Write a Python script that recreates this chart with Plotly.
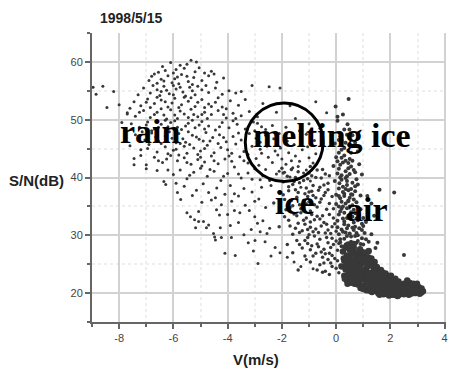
import plotly.graph_objects as go

# ---- data (V in m/s, S/N in dB) ----
rain_outliers = [(-8.96,55.6),(-8.6,55.8),(-8.85,54.4),(-8.2,54.9),(-8.45,52.1),(-8.0,52.6),(-7.7,51.0),(-7.9,49.5)]

rain_pts = [
 (-6.1,59.9),(-5.35,60.3),(-5.15,60.0),(-5.05,59.0),(-5.9,58.7),(-6.3,58.5),(-5.6,58.9),(-6.55,58.2),(-5.75,59.4),(-4.6,58.4),(-5.2,58.3),(-6.0,58.1),
 (-6.8,57.5),(-6.45,57.0),(-6.2,57.6),(-5.95,57.1),(-5.7,57.8),(-5.45,56.6),(-5.25,57.3),(-4.95,56.8),(-4.7,57.6),(-6.6,56.3),(-6.05,56.4),(-5.8,56.2),(-5.5,57.5),(-4.4,56.5),(-4.15,57.2),(-6.9,56.8),
 (-7.1,55.5),(-6.85,54.6),(-6.6,55.2),(-6.35,55.8),(-6.15,54.5),(-5.9,55.3),(-5.65,54.8),(-5.4,55.6),(-5.2,54.3),(-4.95,55.2),(-4.7,54.7),(-4.45,55.5),(-4.2,54.4),(-3.95,55.0),(-6.5,54.2),(-6.0,55.9),(-5.55,54.1),(-5.1,55.8),(-7.3,54.3),(-3.7,54.6),(-6.25,55.1),(-5.75,55.6),
 (-7.45,53.1),(-7.2,52.4),(-6.95,53.6),(-6.7,52.8),(-6.45,53.4),(-6.2,52.2),(-5.95,53.7),(-5.7,52.6),(-5.45,53.2),(-5.2,52.3),(-4.95,53.5),(-4.7,52.7),(-4.45,53.0),(-4.2,52.2),(-3.9,53.3),(-3.6,52.5),(-6.6,53.9),(-6.05,52.9),(-5.35,53.8),(-4.85,52.1),(-7.6,52.0),(-3.35,53.5),(-6.85,52.1),(-5.6,53.9),
 (-7.7,51.2),(-7.4,50.6),(-7.1,51.6),(-6.85,50.4),(-6.6,51.3),(-6.35,50.8),(-6.1,51.7),(-5.85,50.2),(-5.6,51.0),(-5.35,51.8),(-5.1,50.5),(-4.85,51.3),(-4.6,50.9),(-4.35,51.6),(-4.05,50.3),(-3.8,51.1),(-3.5,50.7),(-3.2,51.4),(-6.25,50.1),(-5.75,51.5),(-5.25,50.9),(-4.75,50.2),(-6.7,50.9),(-2.9,50.5),
 (-7.55,49.3),(-7.25,48.7),(-6.95,49.6),(-6.7,48.4),(-6.45,49.2),(-6.2,48.8),(-5.95,49.8),(-5.7,48.3),(-5.45,49.4),(-5.2,48.6),(-4.95,49.7),(-4.7,48.9),(-4.45,48.2),(-4.2,49.5),(-3.95,48.6),(-3.65,49.2),(-3.35,48.4),(-3.05,49.6),(-6.1,49.5),(-5.55,48.9),(-5.05,49.1),(-2.75,48.8),(-6.8,48.1),
 (-7.4,47.4),(-7.05,46.5),(-6.8,47.7),(-6.55,46.3),(-6.3,47.2),(-6.05,46.8),(-5.8,47.6),(-5.55,46.1),(-5.3,47.3),(-5.05,46.6),(-4.8,47.8),(-4.55,46.9),(-4.3,47.4),(-4.05,46.2),(-3.8,47.1),(-3.5,46.5),(-3.2,47.6),(-2.95,46.8),(-5.9,46.0),(-5.45,47.9),(-4.9,46.3),(-2.6,47.3),
 (-7.6,45.5),(-7.2,44.8),(-6.9,45.7),(-6.6,44.4),(-6.3,45.3),(-6.0,44.7),(-5.75,45.9),(-5.5,44.2),(-5.25,45.1),(-5.0,44.6),(-4.75,45.6),(-4.5,44.3),(-4.25,45.2),(-4.0,44.8),(-3.7,45.8),(-3.4,44.5),(-3.1,45.4),(-2.8,44.9),(-5.6,45.4),(-5.1,44.0),(-6.2,44.1),
 (-7.45,43.3),(-7.0,42.2),(-6.7,43.5),(-6.4,42.6),(-6.1,43.8),(-5.85,42.9),(-5.6,43.4),(-5.35,42.3),(-5.1,43.1),(-4.85,42.7),(-4.6,43.7),(-4.35,42.4),(-4.1,43.2),(-3.85,42.8),(-3.55,43.6),(-3.25,42.5),(-2.95,43.3),(-5.8,43.9),(-4.95,42.0),
 (-6.35,39.3),(-6.28,38.8),(-6.0,40.5),(-5.75,41.3),(-5.5,39.8),(-5.25,40.9),(-5.0,41.6),(-4.75,40.2),(-4.5,41.1),(-4.25,39.5),(-4.0,40.7),(-3.75,41.8),(-3.5,39.9),(-3.25,40.8),(-3.0,41.5),(-2.8,39.6),(-5.6,38.5),(-4.9,38.9),(-4.4,38.2),(-3.9,38.6),(-3.4,38.1),(-6.6,41.2),(-5.9,39.0),(-7.45,42.2),(-7.0,41.5),
 (-5.73,36.2),(-5.5,33.9),(-5.37,33.2),(-5.22,32.7),(-5.07,34.1),(-4.41,34.4),(-4.23,35.3),(-5.3,36.9),(-4.95,35.7),(-4.7,37.4),(-4.45,36.5),(-4.1,37.1),(-3.85,35.9),(-3.6,36.8),(-3.35,35.2),(-3.1,37.5),(-2.85,36.3),(-2.6,34.8),(-4.0,33.6),(-3.55,33.9),(-3.2,34.3),(-5.85,37.4),
 (-5.07,32.4),(-5.18,31.3),(-4.89,32.4),(-4.7,31.8),(-4.78,31.3),(-4.52,30.3),(-4.45,29.2),(-4.27,31.3),(-4.23,29.6),(-4.48,29.7),(-3.86,29.6),(-3.13,31.0),(-2.8,30.6),(-2.62,28.9),(-3.24,28.7),(-2.99,29.1),(-3.6,32.2),(-3.4,30.1),(-2.7,32.5),(-2.45,31.2),(-3.9,31.7),
 (-3.72,26.5),(-2.88,25.1),(-2.25,27.9),(-2.07,27.0),(-1.8,26.2),(-1.55,25.4),(-2.4,26.4),(-1.3,24.6),(-1.1,25.8),(-0.85,24.2),(-3.05,27.3),(-4.1,26.9),
]

rain_pts2 = [
 (-6.4,59.2),(-5.5,59.6),(-6.7,57.9),(-6.35,56.7),(-5.85,57.4),(-5.3,56.1),(-4.85,58.1),(-4.5,57.9),(-6.75,55.9),(-6.45,54.9),(-6.0,54.3),(-5.3,55.0),(-4.8,55.9),(-4.35,53.8),
 (-7.0,53.0),(-6.3,53.1),(-5.8,52.1),(-5.1,53.0),(-4.6,52.3),(-4.05,51.9),(-7.25,51.3),(-6.45,51.9),(-5.95,50.8),(-5.45,50.4),(-4.95,50.9),(-4.15,50.9),(-3.7,50.2),
 (-7.0,49.1),(-6.55,48.7),(-6.3,49.9),(-5.85,48.7),(-5.3,49.9),(-4.85,48.4),(-4.3,48.8),(-3.8,49.8),(-7.15,47.9),(-6.65,47.0),(-6.15,47.9),(-5.65,46.7),(-5.15,47.0),(-4.65,46.3),(-4.15,46.9),(-3.6,47.7),(-3.0,48.1),
 (-6.95,45.0),(-6.45,45.9),(-5.9,44.9),(-5.4,45.7),(-4.85,45.0),(-4.35,45.9),(-3.85,44.2),(-3.25,44.0),(-7.2,43.8),(-6.55,42.9),(-6.25,43.2),(-5.5,42.6),(-5.0,43.5),(-4.5,42.9),(-3.95,43.7),(-3.4,42.9),
 (-6.2,41.3),(-5.4,40.4),(-4.65,41.4),(-4.15,40.2),(-3.6,40.6),(-3.1,39.7),(-5.15,37.8),(-4.6,36.1),(-3.75,37.2),(-3.0,35.9),(-2.75,38.3),(-4.3,33.5),(-3.75,34.3),(-3.0,33.2),(-2.55,30.3),(-2.9,32.1),
]

melting_pts = [
 (-2.9,49.4),(-2.6,48.3),(-2.35,49.0),(-2.1,47.6),(-1.85,48.7),(-1.6,47.2),(-1.35,48.1),(-1.1,47.5),(-2.8,46.1),(-2.55,45.4),(-2.3,46.7),(-2.05,45.1),(-1.8,46.3),(-1.55,45.7),(-1.3,46.9),(-1.05,45.3),(-0.8,46.4),
 (-2.75,44.2),(-2.5,43.5),(-2.25,44.6),(-2.0,43.2),(-1.75,44.3),(-1.5,43.7),(-1.25,44.8),(-1.0,43.4),(-0.75,44.1),(-2.85,42.1),(-2.6,41.4),(-2.35,42.6),(-2.1,41.1),(-1.85,42.3),(-1.6,41.7),(-1.35,42.8),(-1.1,41.3),(-0.85,42.5),
 (-2.7,40.3),(-2.45,39.5),(-2.2,40.6),(-1.95,39.2),(-1.7,40.1),(-1.45,39.7),(-1.2,40.8),(-0.95,39.4),(-2.15,43.9),(-1.65,42.9),(-1.9,40.9),(-1.4,41.9),(-2.4,38.6),(-1.3,38.3),(-0.6,48.5),(-0.75,53.1),(-0.35,51.2),
 (-2.47,55.7),(-2.07,55.5),(-3.5,54.9),(-1.5,50.2),(-1.0,49.3),(-2.2,51.3),(-1.7,52.4),(-2.7,52.8),(-3.1,55.9),
]

ice_pts = [
 (-2.0,41.6),(-1.8,40.2),(-1.6,38.8),(-1.4,41.0),(-1.2,39.5),(-1.0,40.8),(-0.85,38.6),(-0.7,41.3),(-0.55,39.9),(-0.4,40.6),(-1.5,40.0),(-1.1,38.2),(-0.6,38.3),(-0.95,41.9),(-1.75,38.4),(-0.3,39.0),
 (-2.1,37.5),(-1.9,36.2),(-1.75,37.7),(-1.6,35.1),(-1.45,36.6),(-1.3,34.6),(-1.15,37.2),(-1.0,35.8),(-0.85,36.9),(-0.7,34.9),(-0.55,36.3),(-0.4,37.4),(-0.25,35.5),(-1.85,34.4),(-1.5,37.9),(-1.2,36.0),(-0.95,34.2),(-0.65,37.8),(-0.35,34.5),(-2.3,35.6),(-1.05,36.7),(-0.8,35.3),
 (-1.9,33.2),(-1.7,31.6),(-1.55,33.7),(-1.4,32.1),(-1.25,30.8),(-1.1,33.0),(-0.95,31.4),(-0.8,32.7),(-0.65,30.5),(-0.5,33.4),(-0.35,31.9),(-0.2,30.3),(-1.6,30.2),(-1.3,33.9),(-1.0,30.1),(-0.75,31.1),(-0.45,32.2),(-0.1,33.0),(-2.1,31.5),(-1.15,31.9),(-0.9,33.6),(-0.3,30.9),
 (-1.45,29.1),(-1.25,27.8),(-1.05,29.6),(-0.9,28.2),(-0.75,26.9),(-0.6,29.3),(-0.45,27.6),(-0.3,28.7),(-0.15,26.5),(0.0,29.0),(-1.6,27.0),(-1.15,26.4),(-0.5,26.2),(-0.2,27.9),(-0.8,29.9),(-1.8,28.4),(-0.05,26.0),
 (-0.6,24.9),(-0.4,23.8),(-0.2,25.2),(0.0,24.3),(-0.95,25.4),(-0.3,25.8),(0.1,23.5),(-1.4,24.0),
]

ice_pts2 = [
 (-1.95,40.8),(-1.65,41.4),(-1.35,39.1),(-1.05,39.8),(-0.75,40.0),(-0.5,41.4),(-0.25,40.3),(-1.55,39.3),(-0.9,40.3),(-0.45,38.7),
 (-1.95,37.0),(-1.65,36.0),(-1.4,37.4),(-1.1,35.4),(-0.9,37.6),(-0.6,35.7),(-0.45,36.9),(-0.15,36.7),(-1.35,35.3),(-0.75,36.5),(-0.3,37.9),(-0.1,34.6),(-1.7,34.8),(-1.0,37.5),
 (-1.75,32.6),(-1.5,31.2),(-1.2,32.6),(-1.05,31.0),(-0.85,30.6),(-0.7,33.3),(-0.55,31.6),(-0.4,30.4),(-0.25,33.6),(-0.15,31.5),(0.0,30.7),(-1.35,30.5),(-0.6,32.8),(-0.05,32.0),(-1.45,33.4),(-0.95,32.3),
 (-1.35,28.4),(-1.15,29.1),(-0.95,27.5),(-0.7,28.5),(-0.55,27.1),(-0.35,29.6),(-0.25,26.9),(-0.1,28.4),(0.05,27.4),(-0.85,26.4),(-0.4,26.8),(-0.65,28.0),(-1.05,28.6),(-0.15,29.5),(0.1,28.6),
 (-0.45,25.2),(-0.15,24.6),(0.05,25.6),(-0.7,24.0),(-0.25,23.2),(0.15,24.8),(-0.5,23.6),
]

air_pts = [
 (0.05,49.8),(0.3,48.3),(0.49,48.3),(0.42,49.2),(0.15,47.1),(0.35,46.0),(0.2,44.8),(0.5,45.5),(-0.05,45.9),(0.6,47.3),(0.1,46.5),(0.46,53.6),(0.05,50.5),(-0.02,52.3),(0.8,44.5),(0.25,50.9),
 (0.0,43.5),(0.15,42.2),(0.3,43.8),(0.45,41.6),(0.6,42.9),(0.2,40.4),(0.35,41.1),(0.5,43.2),(0.7,40.9),(0.1,41.5),(0.25,42.6),(0.4,40.2),(-0.1,42.0),(0.55,41.9),(0.85,42.3),(0.05,40.7),
 (-0.05,39.4),(0.1,38.1),(0.2,39.6),(0.3,37.2),(0.4,38.7),(0.5,36.5),(0.6,39.1),(0.7,37.6),(0.15,36.4),(0.25,38.4),(0.35,39.9),(0.45,37.8),(0.55,38.0),(0.8,38.8),(0.0,37.0),(0.65,36.2),(0.3,36.8),(0.9,36.9),(0.12,39.0),
 (0.0,35.4),(0.1,33.6),(0.2,35.8),(0.3,32.4),(0.4,34.7),(0.5,33.1),(0.6,35.2),(0.7,33.8),(0.8,32.6),(0.15,34.1),(0.25,32.9),(0.35,35.5),(0.45,33.4),(0.55,34.0),(0.65,32.2),(0.9,34.5),(1.0,33.0),(0.05,32.5),(0.75,35.7),(1.1,32.3),
 (0.05,31.4),(0.15,29.3),(0.25,30.6),(0.35,28.4),(0.45,31.7),(0.55,29.8),(0.65,30.9),(0.75,28.7),(0.85,31.2),(0.95,29.5),(1.05,30.4),(1.2,28.9),(0.2,28.1),(0.4,29.9),(0.6,28.2),(0.8,30.0),(1.0,31.6),(1.3,30.2),(0.3,31.9),(0.7,31.5),
 (2.5,26.6),(2.14,37.4),(1.6,37.9),(1.52,28.7),(1.45,27.8),(1.3,35.5),(1.15,36.8),(0.95,40.5),(1.4,33.4),
]

air_pts2 = [
 (0.2,46.3),(0.4,47.4),(0.1,44.3),(0.3,45.1),(0.55,44.3),(0.7,46.0),(0.45,42.5),(0.2,43.4),(0.65,41.3),(0.35,42.9),(0.05,42.8),(0.15,40.0),(0.4,39.4),(0.5,40.6),(0.75,39.7),(0.25,37.5),(0.55,37.1),
 (0.1,36.8),(0.45,36.0),(0.7,38.5),(0.35,38.0),(0.6,37.0),(0.2,34.6),(0.4,33.0),(0.5,35.0),(0.65,34.4),(0.85,33.5),(0.3,33.9),(0.1,35.0),(0.6,33.2),(0.75,32.9),(0.95,32.0),(0.45,35.9),(0.25,35.0),
 (0.1,30.2),(0.3,29.4),(0.5,30.3),(0.7,29.9),(0.9,28.5),(1.1,29.3),(0.2,31.0),(0.4,31.2),(0.6,31.3),(0.8,29.0),(1.0,28.4),(0.35,30.5),(0.55,28.9),(0.75,30.4),(0.15,28.8),(0.95,30.9),
]

tail_pts = [
 (0.25,27.2),(0.3,25.6),(0.35,24.1),(0.4,26.5),(0.45,23.2),(0.5,27.5),(0.55,25.0),(0.6,22.6),(0.3,23.0),(0.4,22.2),(0.5,24.3),(0.6,26.8),(0.35,27.9),(0.45,25.8),(0.55,23.7),(0.2,24.6),(0.6,24.5),(0.42,21.6),
 (0.65,27.8),(0.7,25.9),(0.75,23.4),(0.8,26.6),(0.85,22.0),(0.9,24.8),(0.95,27.1),(1.0,23.1),(0.68,21.6),(0.72,24.3),(0.78,22.7),(0.82,25.2),(0.88,23.6),(0.92,21.3),(0.98,25.7),(0.7,27.0),(0.85,26.3),(0.95,22.4),(0.66,23.0),(0.8,24.0),(0.9,20.9),(1.0,26.1),(0.75,25.0),(0.88,27.6),
 (1.05,25.3),(1.1,22.1),(1.15,24.6),(1.2,20.8),(1.25,23.5),(1.3,26.0),(1.35,21.7),(1.4,24.1),(1.45,20.4),(1.5,22.9),(1.08,23.8),(1.12,20.5),(1.18,26.2),(1.22,22.6),(1.28,24.9),(1.32,20.2),(1.38,22.3),(1.42,25.4),(1.48,21.5),(1.02,21.2),(1.15,21.9),(1.25,21.1),(1.35,23.3),(1.45,23.8),(1.1,24.2),(1.2,25.0),(1.3,22.0),(1.4,21.0),(1.5,24.5),(1.05,27.0),
 (1.55,20.0),(1.6,22.4),(1.65,21.1),(1.7,23.6),(1.75,19.8),(1.8,22.0),(1.85,20.7),(1.9,23.0),(1.95,19.6),(2.0,21.8),(1.58,23.3),(1.62,20.6),(1.68,22.0),(1.72,21.0),(1.78,20.3),(1.82,23.4),(1.88,21.5),(1.92,20.1),(1.98,22.6),(1.55,21.7),(1.65,24.0),(1.75,21.6),(1.85,22.5),(1.95,21.2),(1.6,19.7),(1.7,20.5),(1.8,21.4),(1.9,19.9),
 (2.05,20.4),(2.1,22.1),(2.15,19.7),(2.2,21.3),(2.25,20.0),(2.3,22.0),(2.35,19.8),(2.4,21.0),(2.45,20.3),(2.5,21.6),(2.08,21.0),(2.12,20.1),(2.18,22.5),(2.22,20.6),(2.28,19.6),(2.32,21.4),(2.38,20.5),(2.42,19.9),(2.48,21.1),(2.02,23.0),(2.2,20.2),(2.3,20.8),
 (2.55,20.0),(2.6,21.3),(2.65,20.4),(2.7,21.8),(2.75,19.9),(2.8,20.9),(2.85,20.3),(2.9,21.2),(2.95,20.6),(3.0,20.1),(3.05,21.0),(3.1,20.4),(3.15,20.8),(2.58,20.7),(2.68,19.7),(2.78,21.4),(2.88,20.0),(2.98,21.6),(3.08,19.9),(3.2,20.3),(2.62,22.2),(2.72,20.6),
]

tail_pts2 = [
 (0.28,26.0),(0.38,24.9),(0.48,26.2),(0.58,27.0),(0.32,22.5),(0.52,22.9),(0.62,25.4),(0.74,26.2),(0.84,24.6),(0.96,23.8),(0.7,22.2),(0.8,21.5),(1.06,22.7),(1.16,23.1),(1.26,25.6),(1.36,24.6),(1.46,22.3),
 (1.56,22.9),(1.66,22.6),(1.76,22.8),(1.86,21.0),(1.96,20.5),(1.24,20.4),(1.34,21.2),(1.44,21.9),(1.54,20.8),(1.64,19.9),(1.74,20.9),(1.84,19.9),(1.94,22.0),(2.04,21.5),(2.14,20.9),(2.24,21.8),(2.34,20.3),
 (2.44,20.7),(2.54,20.9),(2.64,21.0),(2.74,20.2),(2.84,21.6),(2.94,20.0),(3.04,20.5),(3.14,20.1),(1.1,26.0),(0.9,26.0),(0.65,28.5),(0.45,28.4),(1.2,27.3),(0.55,21.8),(1.0,20.7),(2.06,19.7),(2.26,19.5),(2.5,19.8),
]

x_tickvals = [-8, -6, -4, -2, 0, 2, 4]
x_ticktext = ["-8", "-6", "-4", "-2", "0", "2", "4"]
y_tickvals = [20, 30, 40, 50, 60]
y_ticktext = ["20", "30", "40", "50", "60"]

title_text = "1998/5/15"
x_title = "V(m/s)"
y_title = "S/N(dB)"
region_labels = ["rain", "melting ice", "ice", "air"]
region_label_pos = [(-6.85, 48.0), (-0.16, 47.2), (-1.52, 35.7), (1.15, 34.5)]

DOT = "#383838"

fig = go.Figure()

def add(pts, size):
    xs = [p[0] for p in pts]
    ys = [p[1] for p in pts]
    fig.add_trace(go.Scatter(x=xs, y=ys, mode="markers",
                             marker=dict(size=size, color=DOT, line=dict(width=0)),
                             hoverinfo="skip", showlegend=False))

add(rain_outliers, 3)
add(rain_pts, 3)
add(rain_pts2, 3)
add(melting_pts, 3)
add(ice_pts, 3.5)
add(ice_pts2, 3.5)
add(air_pts, 4)
add(air_pts2, 4)
add(tail_pts, 6.5)
add(tail_pts2, 6.5)

for txt, (lx, ly) in zip(region_labels, region_label_pos):
    fig.add_annotation(x=lx, y=ly, text="<b>%s</b>" % txt, showarrow=False,
                       xanchor="center", yanchor="middle",
                       font=dict(family="Liberation Serif, Times New Roman, serif", size=34, color="black"))

fig.add_shape(type="circle", xref="x", yref="y", x0=-3.35, x1=-0.48, y0=39.3, y1=52.9,
              line=dict(color="black", width=3))

fig.add_annotation(xref="paper", yref="paper", x=0.11, y=1.052, text="<b>%s</b>" % title_text,
                   showarrow=False, xanchor="center", yanchor="middle",
                   font=dict(family="Liberation Sans, Arial, sans-serif", size=14, color="#222"))
fig.add_annotation(xref="paper", yref="paper", x=-0.157, y=0.488, text="<b>%s</b>" % y_title,
                   showarrow=False, xanchor="center", yanchor="middle",
                   font=dict(family="Liberation Sans, Arial, sans-serif", size=15, color="#222"))
fig.add_annotation(xref="paper", yref="paper", x=0.463, y=-0.131, text="<b>%s</b>" % x_title,
                   showarrow=False, xanchor="center", yanchor="middle",
                   font=dict(family="Liberation Sans, Arial, sans-serif", size=15, color="#222"))

axis_common = dict(showline=True, linecolor="#666", linewidth=2, ticks="outside", ticklen=5,
                   tickwidth=1.5, tickcolor="#666", showgrid=True, gridcolor="#d2d2d2", gridwidth=1.5,
                   zeroline=False, tickfont=dict(family="Liberation Sans, Arial, sans-serif", size=11, color="#444"))

fig.update_xaxes(range=[-9, 4.05], tickmode="array", tickvals=x_tickvals, ticktext=x_ticktext,
                 minor=dict(dtick=1, tick0=-9, ticks="outside", ticklen=3, tickcolor="#666",
                            showgrid=True, gridcolor="#eeeeee", griddash="dot"),
                 **axis_common)
fig.update_yaxes(range=[15, 65], tickmode="array", tickvals=y_tickvals, ticktext=y_ticktext,
                 minor=dict(dtick=5, tick0=15, ticks="outside", ticklen=3, tickcolor="#666",
                            showgrid=True, gridcolor="#eeeeee", griddash="dot"),
                 **axis_common)

fig.update_layout(width=450, height=369, margin=dict(l=92, r=2, t=33, b=47),
                  paper_bgcolor="white", plot_bgcolor="white")

fig.write_html("out.html")
